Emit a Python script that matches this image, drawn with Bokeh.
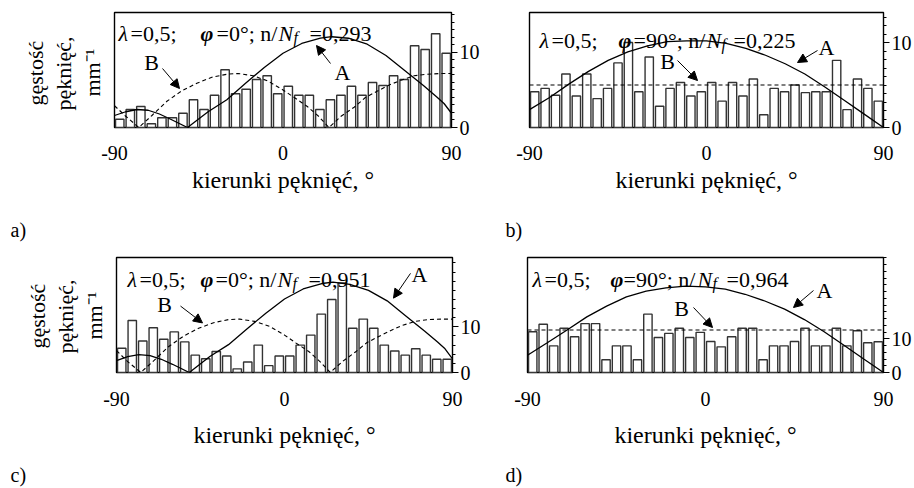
import numpy as np
from bokeh.plotting import figure
from bokeh.layouts import column, row
from bokeh.models import Label, Arrow, NormalHead, FixedTicker, Range1d, Title
from bokeh.embed import file_html
from bokeh.resources import INLINE

SERIF = "Liberation Serif"

# Crack density (mm^-1) in equal direction bins spanning -90..90 deg
dens_a = [1.1, 2.4, 2.8, 0.5, 1.3, 1.3, 1.9, 3.7, 2.4, 4.3, 7.7, 4.5, 5.1, 6.4, 6.9, 4.5,
          5.5, 4.3, 4.3, 2.4, 3.7, 4.3, 5.5, 4.3, 6.0, 5.6, 6.9, 6.4, 10.9, 10.4, 12.5, 9.9]
dens_b = [4.2, 4.6, 3.8, 6.3, 3.7, 6.3, 3.4, 4.6, 7.6, 10.0, 4.2, 8.3, 2.5, 4.6, 5.3, 3.7,
          4.2, 5.3, 3.1, 5.3, 3.7, 5.7, 1.5, 4.6, 4.2, 5.0, 4.1, 4.2, 4.2, 7.9, 2.1, 5.7, 4.6, 3.1]
dens_c = [5.3, 11.4, 6.9, 9.8, 7.3, 8.9, 6.7, 3.8, 3.0, 4.6, 3.6, 0.8, 2.3, 6.0, 1.5, 3.6,
          3.6, 6.0, 8.2, 12.8, 16.0, 19.6, 9.7, 11.7, 9.7, 6.0, 4.7, 3.8, 5.2, 3.8, 2.9, 2.9]
dens_d = [12.1, 14.3, 7.9, 13.1, 10.6, 14.5, 14.5, 3.8, 7.9, 7.9, 3.8, 17.3, 10.4, 11.6, 13.1, 10.4,
          11.9, 9.2, 7.6, 10.6, 13.1, 13.1, 3.8, 7.9, 7.9, 9.2, 13.1, 7.9, 7.9, 13.1, 7.9, 12.4, 8.8, 9.1]

# Curve A (solid) and curve B (dashed), phi = 0 deg
ang_A0 = [-90, -84, -78, -72, -66, -60, -51, -40, -30, -20, -10, 0, 10, 20, 26, 35, 45, 55, 65, 75, 82, 86, 90]
A_a = [1.6, 2.1, 2.4, 2.3, 1.8, 1.1, 0.0, 2.1, 3.7, 5.9, 8.0, 9.9, 11.2, 11.9, 12.1, 11.9, 11.1, 9.6, 7.6, 5.6, 4.1, 3.2, 1.9]
A_c = [2.6, 3.5, 3.9, 3.7, 2.9, 1.8, 0.0, 3.5, 6.1, 9.6, 13.0, 16.1, 18.3, 19.5, 19.8, 19.3, 18.0, 15.7, 12.4, 9.1, 6.7, 5.2, 3.0]
ang_B0 = [-90, -84, -77, -70, -62, -54, -46, -38, -30, -24, -16, -8, 0, 6, 13, 19, 24.5, 31, 38, 44, 50, 57, 63, 70, 77, 84, 90]
B_a = [2.9, 1.5, 0.0, 1.6, 3.5, 4.9, 5.9, 6.7, 7.1, 7.2, 6.9, 6.2, 5.0, 4.0, 2.8, 1.5, 0.0, 1.5, 2.7, 4.0, 4.8, 5.7, 6.3, 6.9, 7.1, 7.2, 7.2]
B_c = [4.8, 2.4, 0.0, 2.6, 5.7, 8.0, 9.7, 10.9, 11.6, 11.7, 11.2, 10.1, 8.2, 6.5, 4.6, 2.4, 0.0, 2.4, 4.5, 6.5, 7.8, 9.2, 10.3, 11.2, 11.6, 11.7, 11.7]

# Curve A and curve B, phi = 90 deg
ang_A90 = [-90, -80, -70, -60, -50, -40, -30, -20, -10, 0, 10, 20, 30, 40, 50, 60, 70, 80, 90]
A_b = [2.1, 3.5, 5.1, 6.6, 7.9, 8.9, 9.6, 10.1, 10.2, 10.2, 9.9, 9.3, 8.5, 7.5, 6.3, 4.8, 3.2, 1.6, 0.0]
A_d = [5.1, 8.8, 12.6, 16.5, 19.7, 22.4, 24.1, 25.1, 25.6, 25.4, 24.7, 23.2, 21.2, 18.8, 15.7, 12.1, 8.1, 4.0, 0.0]
ang_B90 = [-90, 90]
B_b = [5.0, 5.0]
B_d = [12.6, 12.6]

x_ticks = [-90, 0, 90]
x_tick_labels = {-90: "-90", 0: "0", 90: "90"}
phi_text = ["=0°; n/", "=90°; n/", "=0°; n/", "=90°; n/"]
ratio_text = ["=0,293", "=0,225", "=0,951", "=0,964"]
panel_names = ["a)", "b)", "c)", "d)"]
y_title = ["gęstość", "pęknięć,", "mm⁻¹"]

# Page geometry: figure origin/size and plot frame (left, top, right, bottom), all in page px
panels = [
    dict(dens=dens_a, angA=ang_A0, A=A_a, angB=ang_B0, B=B_a, ymax=15.33, minor=1,
         origin=(0, 0), size=(490, 244), frame=(114, 12, 451, 127),
         title_x=(118, 130, 200, 216, 278, 293, 309), base=33,
         lblA=(342, 72), arrA=(330, 63, 316, 45), lblB=(151, 62), arrB=(162, 68, 179, 88),
         name_x=10, name_gap=18, ytitle_off=(31, 17, 22)),
    dict(dens=dens_b, angA=ang_A90, A=A_b, angB=ang_B90, B=B_b, ymax=13.53, minor=1,
         origin=(490, 0), size=(424, 244), frame=(529, 12, 883, 127),
         title_x=(539, 551, 618, 633, 706, 721, 733), base=40,
         lblA=(826, 47), arrA=(817, 50, 797, 62), lblB=(667, 61), arrB=(677, 60, 697, 80),
         name_x=505, name_gap=18, ytitle_off=None),
    dict(dens=dens_c, angA=ang_A0, A=A_c, angB=ang_B0, B=B_c, ymax=25.2, minor=2,
         origin=(0, 244), size=(490, 244), frame=(116, 256, 452, 372),
         title_x=(127, 139, 200, 215, 277, 292, 308), base=278,
         lblA=(419, 273), arrA=(410, 272, 393, 297), lblB=(164, 303), arrB=(180, 305, 202, 322),
         name_x=10, name_gap=8, ytitle_off=(33, 19, 24)),
    dict(dens=dens_d, angA=ang_A90, A=A_d, angB=ang_B90, B=B_d, ymax=34.1, minor=2,
         origin=(490, 244), size=(424, 244), frame=(527, 257, 883, 372),
         title_x=(532, 544, 610, 623, 697, 712, 726), base=279,
         lblA=(824, 290), arrA=(813, 290, 793, 307), lblB=(681, 308), arrB=(693, 307, 712, 327),
         name_x=505, name_gap=8, ytitle_off=None),
]


def to_data(P, sx, sy):
    """Convert a page pixel position to the panel's data coordinates."""
    fl, ft, fr, fb = P["frame"]
    x = -90 + (sx - fl) * 180.0 / (fr - fl)
    y = (fb - sy) * P["ymax"] / (fb - ft)
    return x, y


def text(p, P, sx, sy, s, size, style="normal", align="left", baseline="alphabetic"):
    x, y = to_data(P, sx, sy)
    p.add_layout(Label(x=x, y=y, text=s, text_font=SERIF, text_font_size=f"{size}px",
                       text_font_style=style, text_align=align, text_baseline=baseline,
                       text_color="black"))


def arrow(p, P, coords):
    x0, y0 = to_data(P, coords[0], coords[1])
    x1, y1 = to_data(P, coords[2], coords[3])
    p.add_layout(Arrow(end=NormalHead(size=9, fill_color="black", line_color="black", line_width=1),
                       x_start=x0, y_start=y0, x_end=x1, y_end=y1,
                       line_color="black", line_width=1))


def side_title(s, size, standoff, align="center", offset=0):
    return Title(text=s, align=align, offset=offset, standoff=standoff,
                 text_font=SERIF, text_font_size=f"{size}px", text_font_style="normal",
                 text_color="black")


def build(i):
    P = panels[i]
    fl, ft, fr, fb = P["frame"]
    ox, oy = P["origin"]
    w, h = P["size"]
    top_row = i < 2
    p = figure(width=w, height=h, x_range=Range1d(-90, 90), y_range=Range1d(0, P["ymax"]),
               y_axis_location="right", toolbar_location=None, output_backend="svg",
               min_border_left=fl - ox, min_border_right=ox + w - fr,
               min_border_top=ft - oy, min_border_bottom=oy + h - fb)
    p.title.visible = False
    p.outline_line_color = "black"
    p.outline_line_width = 1.4
    p.xgrid.visible = False
    p.ygrid.visible = False
    p.background_fill_color = "white"
    p.border_fill_color = "white"

    n = len(P["dens"])
    step = 180.0 / n
    centers = -90 + step * (np.arange(n) + 0.5)
    p.vbar(x=centers, top=P["dens"], bottom=0, width=0.8 * step,
           fill_color="white", line_color="#333333", line_width=1.4)
    p.line(P["angA"], P["A"], line_color="black", line_width=1.3)
    p.line(P["angB"], P["B"], line_color="black", line_width=1.1, line_dash="4 3")

    xa = p.xaxis[0]
    xa.ticker = FixedTicker(ticks=x_ticks)
    xa.major_label_overrides = x_tick_labels
    xa.axis_label = "kierunki pęknięć, °"
    xa.axis_label_text_font = SERIF
    xa.axis_label_text_font_size = "24px"
    xa.axis_label_text_font_style = "normal"
    xa.axis_label_text_color = "black"
    xa.major_label_text_font = SERIF
    xa.major_label_text_font_size = "20px"
    xa.major_label_text_color = "black"
    xa.major_tick_out = 0
    xa.major_tick_in = 0
    xa.minor_tick_out = 0
    xa.minor_tick_in = 0
    xa.axis_line_color = None
    xa.major_label_standoff = 18 if top_row else 19
    xa.axis_label_standoff = 4 if top_row else 13

    ya = p.yaxis[0]
    ymax = P["ymax"]
    ya.ticker = FixedTicker(ticks=[0, 10],
                            minor_ticks=list(range(0, int(ymax) + 1, P["minor"])))
    ya.major_tick_out = 6
    ya.major_tick_in = 0
    ya.minor_tick_out = 3
    ya.minor_tick_in = 0
    ya.axis_line_color = "black"
    ya.major_tick_line_color = "black"
    ya.minor_tick_line_color = "black"
    ya.major_label_standoff = 2
    ya.major_label_text_font = SERIF
    ya.major_label_text_font_size = "20px"
    ya.major_label_text_color = "black"

    # parameter line inside the frame
    tx = P["title_x"]
    base = P["base"]
    text(p, P, tx[0], base, "λ", 22, "italic")
    text(p, P, tx[1], base, "=0,5;", 22)
    text(p, P, tx[2], base, "φ", 22, "bold italic")
    text(p, P, tx[3], base, phi_text[i], 22)
    text(p, P, tx[4], base, "N", 22, "italic")
    text(p, P, tx[5], base + 4, "f", 16, "italic")
    text(p, P, tx[6], base, ratio_text[i], 22)

    # curve markers
    text(p, P, P["lblA"][0], P["lblA"][1], "A", 22, align="center", baseline="middle")
    text(p, P, P["lblB"][0], P["lblB"][1], "B", 22, align="center", baseline="middle")
    arrow(p, P, P["arrA"])
    arrow(p, P, P["arrB"])

    # panel letter under the axis title (an empty strip keeps it lower)
    p.add_layout(side_title(" ", 1, P["name_gap"]), "below")
    p.add_layout(side_title(panel_names[i], 20, 0, align="left", offset=P["name_x"] - fl), "below")

    # vertical axis title, three lines, on the left-hand panels
    if P["ytitle_off"] is not None:
        o_mm, o_pk, o_gs = P["ytitle_off"]
        p.add_layout(side_title(y_title[2], 22, 19, align="left", offset=o_mm), "left")
        p.add_layout(side_title(y_title[1], 22, -14, align="left", offset=o_pk), "left")
        p.add_layout(side_title(y_title[0], 22, 16, align="left", offset=o_gs), "left")
    return p


figs = [build(i) for i in range(4)]
layout = column(row(figs[0], figs[1]), row(figs[2], figs[3]))

open("out.html", "w").write(file_html(layout, INLINE))
